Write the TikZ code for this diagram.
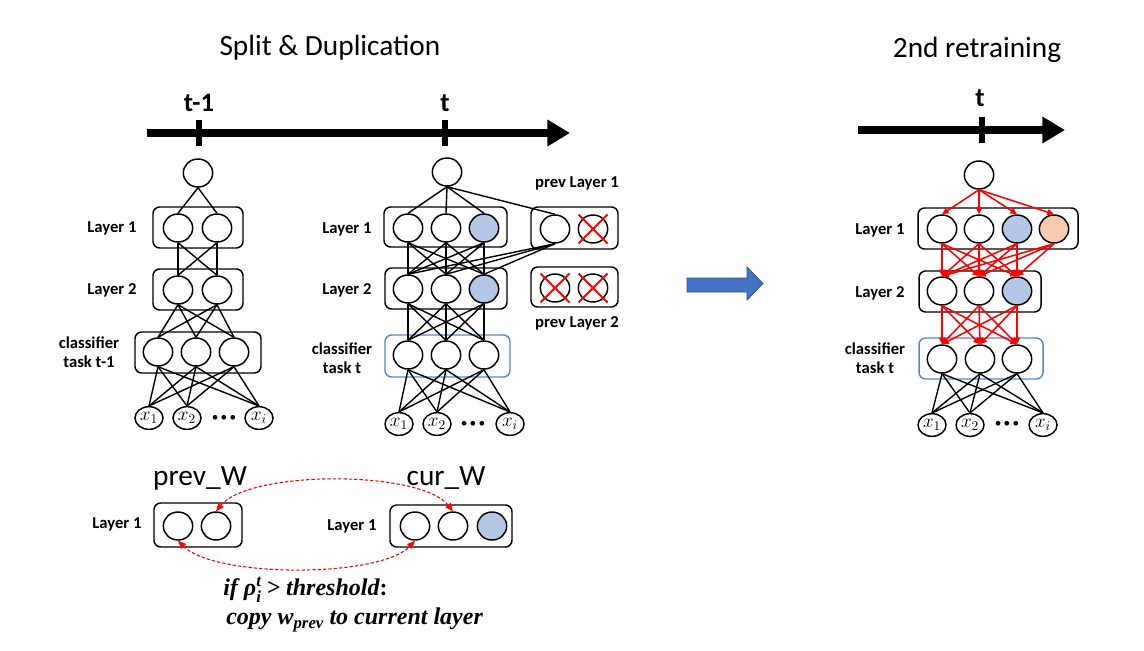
\documentclass[tikz,border=0pt]{standalone}
\usepackage{amsmath}
\usepackage{fontspec}
\setmainfont{Carlito}
\newfontfamily\condfont{Liberation Serif}
\usetikzlibrary{shapes.geometric,arrows.meta,calc}
\definecolor{nblue}{HTML}{B4C7E7}
\definecolor{npeach}{HTML}{F8CBAD}
\definecolor{clsblue}{HTML}{5A87CA}
\definecolor{arrowblue}{HTML}{4472C4}
\definecolor{arrowedge}{HTML}{2F528F}
\newcommand{\cbi}[1]{{\condfont\bfseries\itshape #1}}
\newcommand{\cbu}[1]{{\condfont\bfseries #1}}
\begin{document}
\begin{tikzpicture}[x=0.75pt,y=-0.75pt,
  neuron/.style={ellipse,draw,fill=white,line width=1.1pt,minimum width=22pt,minimum height=21pt,inner sep=0pt},
  xin/.style={ellipse,draw,fill=white,line width=1.1pt,minimum width=21pt,minimum height=17pt,inner sep=0pt,font=\fontsize{14.5}{14.5}\selectfont},
  layerbox/.style={draw,rounded corners=5pt,line width=1.1pt,inner sep=0pt},
  lbl/.style={font=\bfseries\fontsize{12.5}{14.5}\selectfont,align=center},
  title/.style={font=\fontsize{22}{24}\selectfont},
  tlbl/.style={font=\bfseries\fontsize{20}{22}\selectfont},
  dotsn/.style={font=\fontsize{10}{10}\selectfont,inner sep=0pt},
  condtxt/.style={anchor=west,font=\fontsize{18}{20}\selectfont,inner sep=0pt},
  conn/.style={line width=1.05pt},
  rconn/.style={line width=1.15pt,red,-{Triangle[length=5pt,width=4.5pt]}},
  axis/.style={line width=6pt,-{Triangle[length=17pt,width=19pt]}},
  tick/.style={line width=4.5pt},
  cross/.style={red,line width=1.4pt},
  dasharr/.style={red,line width=0.8pt,dash pattern=on 2.5pt off 1.5pt,{Triangle[length=6pt,width=5pt]}-{Triangle[length=6pt,width=5pt]}},
]
\useasboundingbox (0,0) rectangle (1144,650);

% ---------- titles ----------
\node[title] (tsplit) at (330,48) {Split \& Duplication};
\node[title] (tretrain) at (977,50) {2nd retraining};

% ---------- axes ----------
\coordinate (axLs) at (147,133);
\coordinate (axLe) at (570,133);
\draw[axis] (axLs) -- (axLe);
\coordinate (tk1a) at (199,120); \coordinate (tk1b) at (199,146);
\coordinate (tk2a) at (445,120); \coordinate (tk2b) at (445,146);
\draw[tick] (tk1a) -- (tk1b);
\draw[tick] (tk2a) -- (tk2b);
\node[tlbl] (ltm1) at (199,103) {t-1};
\node[tlbl] (lt) at (445,103) {t};

\coordinate (axRs) at (858,130);
\coordinate (axRe) at (1065,130);
\draw[axis] (axRs) -- (axRe);
\coordinate (tk3a) at (982,117); \coordinate (tk3b) at (982,143);
\draw[tick] (tk3a) -- (tk3b);
\node[tlbl] (rt) at (980,98) {t};

% ---------- left network ----------
\node[layerbox,minimum width=67.5pt,minimum height=30.75pt] (LB1) at (198,227.5) {};
\node[layerbox,minimum width=67.5pt,minimum height=30.75pt] (LB2) at (198,289.5) {};
\node[layerbox,minimum width=94.5pt,minimum height=30.75pt] (LBC) at (198,352.5) {};
\node[neuron] (Lt) at (198,173) {};
\node[neuron] (La1) at (178,228) {};
\node[neuron] (La2) at (217,228) {};
\node[neuron] (Lb1) at (178,290) {};
\node[neuron] (Lb2) at (217,290) {};
\node[neuron] (Lc1) at (158,352) {};
\node[neuron] (Lc2) at (196,352) {};
\node[neuron] (Lc3) at (234,352) {};
\node[xin] (Lx1) at (149,418) {$x_1$};
\node[xin] (Lx2) at (187,418) {$x_2$};
\node[xin] (Lx3) at (259,418) {$x_i$};
\node[dotsn] (Ldots) at (224,418) {\textbullet\,\textbullet\,\textbullet};
\node[lbl] (LL1) at (112,228) {Layer 1};
\node[lbl] (LL2) at (112,290) {Layer 2};
\node[lbl] (LLC) at (89,352) {classifier\\task t-1};
\foreach \i in {1,2} \draw[conn] (Lt.south) -- (La\i.north);
\foreach \i in {1,2} \foreach \j in {1,2} \draw[conn] (La\i.south) -- (Lb\j.north);
\foreach \i in {1,2} \foreach \j in {1,2,3} \draw[conn] (Lb\i.south) -- (Lc\j.north);
\foreach \i in {1,2,3} \foreach \j in {1,2,3} \draw[conn] (Lc\i.south) -- (Lx\j.north);

% ---------- middle network ----------
\node[layerbox,minimum width=92.25pt,minimum height=30pt] (MB1) at (445.5,227) {};
\node[layerbox,minimum width=65.25pt,minimum height=31.5pt] (MP1) at (574.5,228) {};
\node[layerbox,minimum width=91.5pt,minimum height=30.75pt] (MB2) at (446,288.5) {};
\node[layerbox,minimum width=65.25pt,minimum height=30pt] (MP2) at (574.5,287) {};
\node[layerbox,draw=clsblue,minimum width=93.75pt,minimum height=31.5pt] (MBC) at (447.5,356) {};
\node[neuron] (Mt) at (447,172) {};
\node[neuron] (Ma1) at (408,228) {};
\node[neuron] (Ma2) at (446,228) {};
\node[neuron,fill=nblue] (Ma3) at (484,228) {};
\node[neuron] (Mp1) at (555,229) {};
\node[neuron] (Mp2) at (593,229) {};
\node[neuron] (Mq1) at (555,288) {};
\node[neuron] (Mq2) at (593,288) {};
\node[neuron] (Mb1) at (408,289) {};
\node[neuron] (Mb2) at (446,289) {};
\node[neuron,fill=nblue] (Mb3) at (484,289) {};
\node[neuron] (Mc1) at (408,355) {};
\node[neuron] (Mc2) at (446,355) {};
\node[neuron] (Mc3) at (484,355) {};
\node[xin] (Mx1) at (399,424) {$x_1$};
\node[xin] (Mx2) at (437,424) {$x_2$};
\node[xin] (Mx3) at (510,424) {$x_i$};
\node[dotsn] (Mdots) at (473,424) {\textbullet\,\textbullet\,\textbullet};
\node[lbl] (ML1) at (347,229) {Layer 1};
\node[lbl] (ML2) at (347,290) {Layer 2};
\node[lbl] (MLC) at (342,358) {classifier\\task t};
\node[lbl] (MPL1) at (577,183) {prev Layer 1};
\node[lbl] (MPL2) at (577,323) {prev Layer 2};
\foreach \n in {Mp2,Mq1,Mq2} {
  \draw[cross] ($(\n)+(-14.5,-14.5)$) -- ($(\n)+(14.5,14.5)$);
  \draw[cross] ($(\n)+(-14.5,14.5)$) -- ($(\n)+(14.5,-14.5)$);
}
\foreach \i in {1,2,3} \draw[conn] (Mt.south) -- (Ma\i.north);
\draw[conn] (Mt.south) -- (Mp1.north);
\foreach \i in {1,2,3} \foreach \j in {1,2,3} \draw[conn] (Ma\i.south) -- (Mb\j.north);
\foreach \j in {1,2,3} \draw[conn] (Mp1.south) -- (Mb\j.north);
\foreach \i in {1,2,3} \foreach \j in {1,2,3} \draw[conn] (Mb\i.south) -- (Mc\j.north);
\foreach \i in {1,2,3} \foreach \j in {1,2,3} \draw[conn] (Mc\i.south) -- (Mx\j.north);

% ---------- blue arrow ----------
\coordinate (ba1) at (687,278);
\coordinate (ba2) at (747,278);
\coordinate (ba3) at (747,267);
\coordinate (ba4) at (763,283.5);
\coordinate (ba5) at (747,300);
\coordinate (ba6) at (747,292);
\coordinate (ba7) at (687,292);
\draw[fill=arrowblue,draw=arrowedge,line width=0.6pt] (ba1) -- (ba2) -- (ba3) -- (ba4) -- (ba5) -- (ba6) -- (ba7) -- cycle;

% ---------- right network ----------
\node[layerbox,minimum width=120pt,minimum height=30.75pt] (RB1) at (998,228.5) {};
\node[layerbox,minimum width=91.5pt,minimum height=30.75pt] (RB2) at (980,291.5) {};
\node[layerbox,draw=clsblue,minimum width=93pt,minimum height=30.75pt] (RBC) at (981,358.5) {};
\node[neuron] (Rt) at (979,175) {};
\node[neuron] (Ra1) at (942,229) {};
\node[neuron] (Ra2) at (979,229) {};
\node[neuron,fill=nblue] (Ra3) at (1017,229) {};
\node[neuron,fill=npeach] (Ra4) at (1054,229) {};
\node[neuron] (Rb1) at (942,291) {};
\node[neuron] (Rb2) at (979,291) {};
\node[neuron,fill=nblue] (Rb3) at (1017,291) {};
\node[neuron] (Rc1) at (942,359) {};
\node[neuron] (Rc2) at (980,359) {};
\node[neuron] (Rc3) at (1017,359) {};
\node[xin] (Rx1) at (932,425) {$x_1$};
\node[xin] (Rx2) at (970,425) {$x_2$};
\node[xin] (Rx3) at (1043,425) {$x_i$};
\node[dotsn] (Rdots) at (1007,424) {\textbullet\,\textbullet\,\textbullet};
\node[lbl] (RL1) at (880,230) {Layer 1};
\node[lbl] (RL2) at (880,293) {Layer 2};
\node[lbl] (RLC) at (875,358) {classifier\\task t};
\foreach \i in {1,2,3,4} \draw[rconn] (Rt.south) -- (Ra\i.north);
\foreach \i in {1,2,3,4} \foreach \j in {1,2,3} \draw[rconn] (Ra\i.south) -- (Rb\j.north);
\foreach \i in {1,2,3} \foreach \j in {1,2,3} \draw[rconn] (Rb\i.south) -- (Rc\j.north);
\foreach \i in {1,2,3} \foreach \j in {1,2,3} \draw[conn] (Rc\i.south) -- (Rx\j.north);

% ---------- bottom: weight copy ----------
\node[title] (prevW) at (200,478) {prev\_W};
\node[title] (curW) at (446,478) {cur\_W};
\node[layerbox,minimum width=66pt,minimum height=33pt] (PWB) at (198,525) {};
\node[layerbox,minimum width=91.5pt,minimum height=31.5pt] (CWB) at (451,526) {};
\node[neuron] (pw1) at (178,526) {};
\node[neuron] (pw2) at (216,526) {};
\node[neuron] (cw1) at (415,526) {};
\node[neuron] (cw2) at (453,526) {};
\node[neuron,fill=nblue] (cw3) at (492,526) {};
\node[lbl] (PWL) at (117,524) {Layer 1};
\node[lbl] (CWL) at (352,526) {Layer 1};
\draw[dasharr] (pw2.north) .. controls (250,470) and (420,470) .. (cw2.north);
\draw[dasharr] (pw1.south) .. controls (215,578) and (380,578) .. (cw1.south);
\node[condtxt] (cond1) at (223,590)
  {\cbi{if ρ}$^{\text{\cbi{t}}}_{\text{\cbi{i}}}$\ \cbu{>} \cbi{threshold}\cbu{:}};
\node[condtxt] (cond2) at (226,620)
  {\cbi{copy w}$_{\text{\cbi{prev}}}$ \cbi{to current layer}};
\end{tikzpicture}
\end{document}
